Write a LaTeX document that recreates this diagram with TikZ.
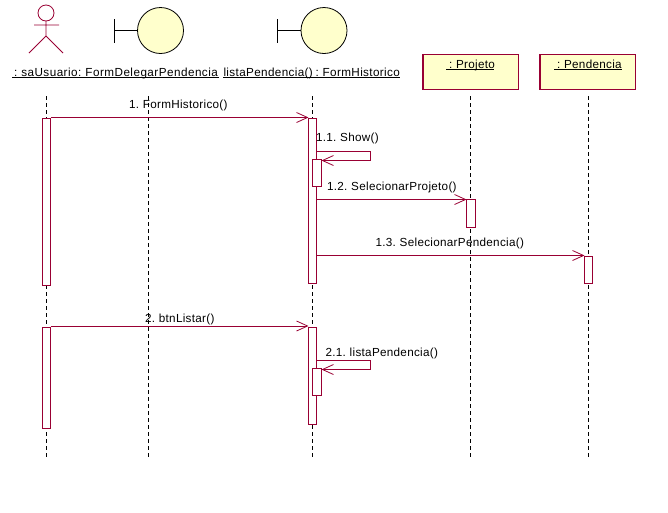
\documentclass[tikz,border=0pt]{standalone}
\usepackage{fontspec}
\setmainfont[LetterSpace=2.5,WordSpace=0.75]{Liberation Sans}
\newfontface\wideface[LetterSpace=4,WordSpace=0.75]{Liberation Sans}
\newfontface\midface[LetterSpace=3.1,WordSpace=0.75]{Liberation Sans}
\usetikzlibrary{arrows.meta}
\definecolor{umlred}{HTML}{990033}
\definecolor{umlyellow}{HTML}{FFFFCC}
\tikzset{
  every node/.style={inner sep=0pt,outer sep=0pt},
  lifeline/.style={black,line width=1pt,dash pattern=on 4pt off 3pt},
  actbox/.style={draw=umlred,fill=white,line width=1pt,minimum width=#1,anchor=north west},
  actbox/.default=8pt,
  objbox/.style={draw=umlred,fill=umlyellow,line width=1.2pt,minimum width=95.5pt,minimum height=35pt,anchor=north west},
  boundcircle/.style={circle,draw=black,fill=umlyellow,line width=.8pt,minimum size=46pt},
  msg/.style={draw=umlred,line width=1pt,-{Straight Barb[length=11pt,width=10pt,line width=.8pt]}},
  lbl/.style={font=\fontsize{11.7pt}{13pt}\selectfont,anchor=base west,text=black},
  uline/.style={black,line width=.8pt},
}
\begin{document}
\begin{tikzpicture}[x=1pt,y=-1pt]
\useasboundingbox (0,0) rectangle (668,512);
% lifeline ends
\coordinate (L1t) at (46,96);   \coordinate (L1b) at (46,457);
\coordinate (L2t) at (148.5,96);\coordinate (L2b) at (148.5,457);
\coordinate (L3t) at (312,96);  \coordinate (L3b) at (312,457);
\coordinate (L4t) at (470.5,96);\coordinate (L4b) at (470.5,457);
\coordinate (L5t) at (588.5,96);\coordinate (L5b) at (588.5,457);
\draw[lifeline] (L1t) -- (L1b);
\draw[lifeline] (L2t) -- (L2b);
\draw[lifeline] (L3t) -- (L3b);
\draw[lifeline] (L4t) -- (L4b);
\draw[lifeline] (L5t) -- (L5b);
% actor
\node[circle,draw=umlred,line width=.8pt,minimum size=16pt] (head) at (46,13) {};
\coordinate (hip) at (46,36);
\coordinate (armL) at (34,25); \coordinate (armR) at (59,25);
\coordinate (legL) at (29,53); \coordinate (legR) at (63,53);
\draw[umlred,line width=.8pt] (head.south) -- (hip) (armL) -- (armR) (legL) -- (hip) -- (legR);
% boundaries
\node[boundcircle] (b1) at (160.5,30.5) {};
\coordinate (b1t) at (114.5,19); \coordinate (b1b) at (114.5,42.5);
\draw[black,line width=.8pt] (b1t) -- (b1b) (b1t |- b1) -- (b1.west);
\node[boundcircle] (b2) at (324,30.5) {};
\coordinate (b2t) at (277.5,19); \coordinate (b2b) at (277.5,42.5);
\draw[black,line width=.8pt] (b2t) -- (b2b) (b2t |- b2) -- (b2.west);
% object boxes
\node[objbox] (projeto) at (423,54.5) {};
\node[objbox] (pendencia) at (540,54.5) {};
% names
\node[lbl] (n1) at (14,76) {\wideface : saUsuario: FormDelegarPendencia};
\node[lbl] (n2) at (223.5,76) {\midface listaPendencia() : FormHistorico};
\node[lbl] (n3) at (449,68) {: Projeto};
\node[lbl] (n4) at (557,68) {: Pendencia};
\draw[uline] (12,77.5) -- (218.5,77.5);
\draw[uline] (223,77.5) -- (400,77.5);
\draw[uline] (446,69.5) -- (494,69.5);
\draw[uline] (554,69.5) -- (622,69.5);
% activations
\node[actbox,minimum height=167pt] (a1) at (42.5,118) {};
\node[actbox,minimum height=101pt] (a2) at (42.5,327) {};
\node[actbox,minimum height=165.5pt] (f1) at (308.5,118) {};
\node[actbox,minimum height=97pt] (f2) at (308.5,327) {};
\node[actbox=9pt,minimum height=27pt] (s1) at (312.5,159.5) {};
\node[actbox=9pt,minimum height=27pt] (s2) at (312.5,368) {};
\node[actbox=9pt,minimum height=28.5pt] (p1) at (466.5,199) {};
\node[actbox,minimum height=27.5pt] (q1) at (584.5,256) {};
% message levels
\coordinate (m1) at (0,117.5);
\coordinate (m11a) at (370.5,151.5); \coordinate (m11b) at (370.5,160.5);
\coordinate (m12) at (0,199.5);
\coordinate (m13) at (0,255.5);
\coordinate (m2) at (0,326);
\coordinate (m21a) at (370.5,360.5); \coordinate (m21b) at (370.5,369.5);
\draw[msg] (a1.east |- m1) -- (f1.west |- m1);
\draw[msg] (f1.east |- m11a) -- (m11a) -- (m11b) -- (s1.east |- m11b);
\draw[msg] (f1.east |- m12) -- (p1.west |- m12);
\draw[msg] (f1.east |- m13) -- (q1.west |- m13);
\draw[msg] (a2.east |- m2) -- (f2.west |- m2);
\draw[msg] (f2.east |- m21a) -- (m21a) -- (m21b) -- (s2.east |- m21b);
% message labels
\node[lbl] (t1) at (129,108) {1. FormHistorico()};
\node[lbl] (t11) at (316,141) {1.1. Show()};
\node[lbl] (t12) at (327,190) {1.2. SelecionarProjeto()};
\node[lbl] (t13) at (375.5,246) {1.3. SelecionarPendencia()};
\node[lbl] (t2) at (145,322) {2. btnListar()};
\node[lbl] (t21) at (325.5,356) {2.1. listaPendencia()};
\end{tikzpicture}
\end{document}
